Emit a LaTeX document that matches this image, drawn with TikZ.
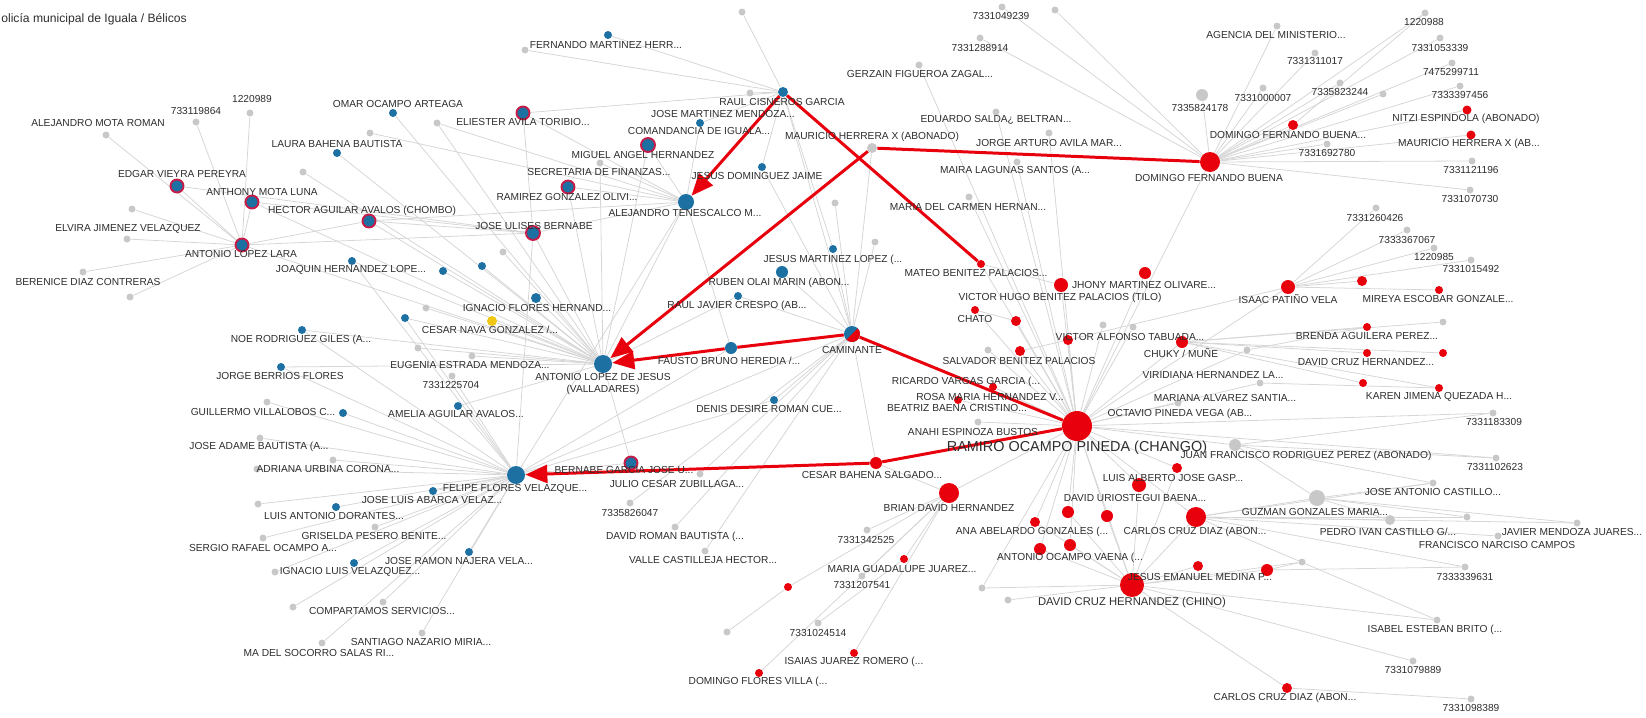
\documentclass[tikz,border=0pt]{standalone}
\usepackage{fontspec}
\setmainfont{Liberation Sans}
\usetikzlibrary{arrows.meta,backgrounds}

\definecolor{bl}{RGB}{28,112,162}
\definecolor{rd}{RGB}{232,0,12}
\definecolor{rring}{RGB}{200,28,72}
\definecolor{ngray}{RGB}{200,200,200}
\definecolor{egray}{RGB}{214,214,214}
\definecolor{yl}{RGB}{240,200,20}
\definecolor{txt}{RGB}{45,45,45}

\begin{document}
\begin{tikzpicture}[x=0.02cm,y=-0.02cm,
  dot/.style={circle,inner sep=0pt,minimum size=#1*0.4mm},
  gn/.style={dot=#1,fill=ngray}, gn/.default=3.5,
  bn/.style={dot=#1,fill=bl}, bn/.default=4,
  rn/.style={dot=#1,fill=rd}, rn/.default=4.5,
  ring/.style={dot=#1,fill=bl,draw=rring,line width=1.1pt}, ring/.default=6.5,
  yn/.style={dot=#1,fill=yl}, yn/.default=5,
  lb/.style={font=\fontsize{5.8}{6.5}\selectfont,text=txt,inner sep=0pt},
  edge/.style={draw=egray,line width=0.45pt},
  link/.style={draw=rd,line width=1.7pt},
  linkarrow/.style={link,-{Triangle[length=0.44cm,width=0.36cm]}}]
\useasboundingbox (0,0) rectangle (1646,717);
%\draw[help lines,step=100] (0,0) grid (1646,717);

\node[lb,anchor=west,font=\fontsize{6.9}{8}\selectfont] (title) at (1,19) {olicía municipal de Iguala / Bélicos};

% left group
\node[gn] (amr) at (106,135) {};
\node[gn] (p733119864) at (196,122) {};
\node[gn] (p1220989) at (250,113) {};
\node[bn] (omar) at (393,113) {};
\node[gn] (g370) at (370,133) {};
\node[bn] (laura) at (337,153) {};
\node[gn] (g303) at (303,172) {};
\node[ring] (edgar) at (177,186) {};
\node[ring] (anthony) at (252,202) {};
\node[ring] (hector) at (369,221) {};
\node[gn] (g132) at (132,209) {};
\node[gn] (elvira) at (127,239) {};
\node[ring] (alara) at (242,245) {};
\node[gn] (berenice) at (83,272) {};
\node[gn] (g130) at (130,297) {};
\node[bn] (joaquin) at (352,261) {};
\node[bn] (b443) at (443,271) {};
\node[bn] (b482) at (482,266) {};
\node[bn] (b405) at (405,318) {};
\node[gn] (g503) at (503,252) {};
\node[bn=5] (ignacio) at (536,298) {};
\node[gn] (g426) at (426,308) {};
\node[yn] (cesarnava) at (492,321) {};
\node[gn] (g418) at (418,348) {};
\node[gn] (eugenia) at (472,356) {};
\node[gn] (p7331225704) at (452,376) {};
\node[bn] (amelia) at (458,406) {};
\node[bn] (noe) at (302,330) {};
\node[bn] (jorge) at (281,367) {};
\node[gn] (guillermo) at (267,402) {};
\node[bn] (b343) at (343,413) {};
\node[gn] (adame) at (260,438) {};
\node[gn] (adriana) at (333,460) {};
\node[gn] (g257) at (257,469) {};
\node[gn] (abarca) at (258,504) {};
\node[bn] (dorantes) at (336,507) {};
\node[gn] (griselda) at (375,527) {};
\node[gn] (sergio) at (263,538) {};
\node[bn] (najera) at (469,552) {};
\node[bn] (ilv) at (354,563) {};
\node[gn] (g275) at (275,572) {};
\node[gn] (compart) at (383,602) {};
\node[gn] (g293) at (293,607) {};
\node[gn] (santiago) at (422,633) {};
\node[gn] (socorro) at (322,643) {};
\node[bn=9] (felipe) at (516,475) {};
\node[bn] (b433) at (433,491) {};
\node[ring] (bernabe) at (631,463) {};
\node[gn] (julio) at (700,474) {};
\node[gn] (p7335826047) at (630,503) {};
\node[gn] (droman) at (675,527) {};
\node[gn] (valle) at (705,551) {};

% upper middle
\node[gn] (g742) at (742,12) {};
\node[bn] (fernando) at (608,35) {};
\node[gn] (g525) at (525,50) {};
\node[bn=5] (raul) at (783,92) {};
\node[gn] (g750) at (750,93) {};
\node[ring] (eliester) at (523,113) {};
\node[gn] (g437) at (437,123) {};
\node[bn] (jmm) at (700,123) {};
\node[ring=7] (comand) at (648,145) {};
\node[gn] (secret) at (600,163) {};
\node[ring] (ramirez) at (568,187) {};
\node[bn] (jdj) at (762,167) {};
\node[bn=8] (atene) at (686,202) {};
\node[ring=7] (ulises) at (533,233) {};
\node[gn=5] (mauricio) at (872,148) {};
\node[bn=9] (ajesus) at (603,364) {};
\node[bn=6] (fausto) at (731,348) {};
\node[bn=6] (ruben) at (782,272) {};
\node[bn] (rjc) at (738,296) {};
\node[bn] (jml) at (833,249) {};
\node[gn] (g875) at (875,242) {};
\node[gn] (g835) at (835,203) {};
\node[bn=8] (camin) at (852,334) {};
\node[bn] (denis) at (774,400) {};

% upper right
\node[gn] (p7331049239) at (1002,7) {};
\node[gn] (g1055) at (1055,10) {};
\node[gn] (p7331288914) at (980,38) {};
\node[gn] (gerzain) at (919,65) {};
\node[gn] (eduardo) at (996,112) {};
\node[gn] (jaam) at (1049,133) {};
\node[gn] (maira) at (1017,162) {};
\node[gn] (mdch) at (969,197) {};
\node[rn=10] (dfb) at (1210,162) {};
\node[gn=6] (p7335824178) at (1202,95) {};
\node[rn=5] (dfb2) at (1293,125) {};
\node[gn] (agencia) at (1277,26) {};
\node[gn] (p7331311017) at (1315,53) {};
\node[gn] (p7331000007) at (1263,88) {};
\node[gn] (p7335823244) at (1340,83) {};
\node[gn] (g1383) at (1383,94) {};
\node[gn] (p1220988) at (1425,13) {};
\node[gn] (p7331053339) at (1440,38) {};
\node[gn] (p7475299711) at (1452,63) {};
\node[gn] (p7333397456) at (1460,86) {};
\node[rn] (nitzi) at (1467,110) {};
\node[rn] (mhx) at (1471,135) {};
\node[gn] (p7331692780) at (1327,144) {};
\node[gn] (p7331121196) at (1472,161) {};
\node[gn] (p7331070730) at (1470,190) {};

% right side
\node[gn] (p7331260426) at (1376,208) {};
\node[gn] (p7333367067) at (1407,230) {};
\node[gn] (p1220985) at (1434,248) {};
\node[gn] (p7331015492) at (1471,260) {};
\node[rn=7] (isaac) at (1288,287) {};
\node[rn=5] (r1362) at (1362,281) {};
\node[rn=4] (mireya) at (1439,290) {};
\node[rn=4] (brenda) at (1367,327) {};
\node[gn] (g1443) at (1443,322) {};
\node[rn=4] (dch) at (1367,353) {};
\node[rn=4] (r1443) at (1443,353) {};
\node[rn=4] (r1363) at (1363,383) {};
\node[rn=4] (karen) at (1439,388) {};
\node[gn] (p7331183309) at (1493,413) {};
\node[gn=6] (jfrp) at (1235,445) {};
\node[gn] (p7331102623) at (1496,458) {};
\node[gn] (viridiana) at (1247,350) {};
\node[gn] (mariana) at (1260,383) {};
\node[gn] (octavio) at (1178,403) {};

% red group
\node[rn=4] (mateo) at (981,264) {};
\node[rn=7] (jhony) at (1061,285) {};
\node[rn=6] (r1145) at (1145,273) {};
\node[rn=4] (chato) at (975,310) {};
\node[rn=5] (vhbp) at (1016,321) {};
\node[gn] (g1103) at (1103,325) {};
\node[gn] (g1133) at (1133,327) {};
\node[rn=5] (vat) at (1068,340) {};
\node[rn=6] (chuky) at (1182,342) {};
\node[rn=5] (sbp) at (1020,351) {};
\node[gn] (g988) at (988,350) {};
\node[rn=4] (ricardo) at (993,387) {};
\node[rn=4] (rosa) at (958,400) {};
\node[gn] (anahi) at (978,422) {};
\node[rn=15] (ramiro) at (1077,426) {};
\node[rn=6] (cesarb) at (876,463) {};
\node[rn=5] (luisa) at (1177,468) {};
\node[rn=10] (brian) at (949,493) {};
\node[rn=7] (uriostegui) at (1139,485) {};
\node[rn=5] (r1035) at (1035,522) {};
\node[rn=6] (r1068) at (1068,512) {};
\node[rn=6] (r1107) at (1107,516) {};
\node[rn=10] (carlos) at (1196,517) {};
\node[rn=6] (aov) at (1040,549) {};
\node[rn=6] (r1070) at (1070,545) {};
\node[rn=6] (jemp) at (1267,570) {};
\node[rn=5] (r1198) at (1198,566) {};
\node[rn=12] (chino) at (1132,585) {};
\node[gn] (p7331342525) at (867,530) {};
\node[rn=4] (mgj) at (904,559) {};
\node[gn] (p7331207541) at (862,576) {};
\node[gn] (g982) at (982,588) {};
\node[gn] (g1008) at (1008,600) {};
\node[rn=4] (r788) at (788,587) {};
\node[gn] (g727) at (727,632) {};
\node[gn] (p7331024514) at (818,623) {};
\node[rn=4] (isaias) at (854,653) {};
\node[rn=4] (dfv) at (759,673) {};
\node[gn] (jac) at (1433,483) {};
\node[gn=8] (guzman) at (1317,498) {};
\node[gn=5] (pedro) at (1390,520) {};
\node[gn] (g1467) at (1467,517) {};
\node[gn] (javier) at (1577,523) {};
\node[gn] (fnc) at (1498,536) {};
\node[gn] (p7333339631) at (1465,567) {};
\node[gn] (g1302) at (1302,562) {};
\node[gn] (isabel) at (1437,620) {};
\node[gn] (p7331079889) at (1413,661) {};
\node[rn=5] (ccd2) at (1287,688) {};
\node[gn] (p7331098389) at (1471,699) {};

% caminante: half red
\fill[rd] (camin.center) ++(-45:8) arc[start angle=-45,end angle=135,radius=8] -- cycle;

\begin{scope}[on background layer]
\foreach \a/\b in {alara/amr,alara/p733119864,alara/p1220989,alara/edgar,alara/anthony,alara/g132,
  alara/elvira,alara/berenice,alara/g130,alara/ajesus,alara/ulises,alara/hector,edgar/ulises,
  anthony/ulises,anthony/ajesus,hector/ulises,hector/ajesus,hector/atene,omar/ajesus,laura/ajesus,
  g370/atene,g303/ajesus,joaquin/ajesus,joaquin/felipe,b443/ajesus,b482/ajesus,b405/felipe,b405/ajesus,
  g503/ajesus,ignacio/ajesus,g426/ajesus,cesarnava/ajesus,g418/ajesus,eugenia/ajesus,
  p7331225704/felipe,amelia/felipe,amelia/ajesus,noe/ajesus,noe/felipe,jorge/felipe,jorge/ajesus,
  guillermo/felipe,b343/felipe,adame/felipe,adriana/felipe,g257/felipe,abarca/felipe,dorantes/felipe,
  griselda/felipe,sergio/felipe,najera/felipe,ilv/felipe,g275/felipe,compart/felipe,g293/felipe,
  santiago/felipe,socorro/felipe,b433/felipe,bernabe/felipe,bernabe/ajesus,julio/camin,
  p7335826047/camin,droman/camin,valle/camin,eliester/ulises,eliester/raul,eliester/atene,
  g437/atene,g437/ajesus,ulises/ajesus,ulises/atene,ulises/felipe,comand/atene,comand/ajesus,
  ramirez/atene,ramirez/ajesus,secret/atene,secret/ajesus,jmm/atene,jmm/raul,jdj/raul,jdj/camin,
  atene/ajesus,atene/felipe,fernando/raul,g525/raul,g742/raul,g750/raul,raul/camin,raul/jml,
  fausto/atene,fausto/felipe,ruben/camin,rjc/camin,rjc/ajesus,jml/camin,g875/camin,g835/camin,
  mauricio/camin,denis/camin,denis/felipe,camin/felipe,camin/ajesus,camin/cesarb}
  \draw[edge] (\a) -- (\b);
\foreach \a/\b in {gerzain/ramiro,eduardo/ramiro,jaam/ramiro,maira/ramiro,mdch/ramiro,
  p7331288914/dfb,p7331049239/dfb,g1055/dfb,dfb/p7335824178,dfb/agencia,dfb/p7331311017,
  dfb/p7331000007,dfb/p7335823244,dfb/g1383,dfb/p1220988,dfb/p7331053339,dfb/p7475299711,
  dfb/p7333397456,dfb/nitzi,dfb/mhx,dfb/p7331692780,dfb/p7331121196,dfb/p7331070730,dfb/dfb2,
  dfb/ramiro,dfb2/p1220988,isaac/p7331260426,isaac/p7333367067,isaac/p1220985,isaac/p7331015492,
  isaac/r1362,isaac/mireya,isaac/ramiro,isaac/vat,chuky/brenda,chuky/g1443,chuky/dch,chuky/r1443,
  chuky/r1363,chuky/karen,chuky/ramiro,viridiana/ramiro,viridiana/brenda,mariana/ramiro,
  mariana/karen,octavio/ramiro,ramiro/mateo,ramiro/jhony,ramiro/r1145,ramiro/chato,ramiro/vhbp,
  ramiro/g1103,ramiro/g1133,ramiro/vat,ramiro/sbp,ramiro/g988,ramiro/ricardo,ramiro/rosa,
  ramiro/anahi,ramiro/jfrp,ramiro/luisa,ramiro/brian,ramiro/uriostegui,ramiro/r1035,ramiro/r1068,
  ramiro/r1107,ramiro/aov,ramiro/r1070,ramiro/carlos,ramiro/chino,ramiro/p7331183309,
  ramiro/p7331102623,ramiro/g982,jfrp/p7331183309,jfrp/p7331102623,jfrp/guzman,jfrp/jac,
  carlos/guzman,carlos/pedro,carlos/jac,carlos/javier,carlos/fnc,carlos/g1467,carlos/p7333339631,
  carlos/isabel,carlos/chino,guzman/jac,guzman/g1467,guzman/javier,guzman/pedro,chino/jemp,
  chino/r1198,chino/ccd2,chino/p7331079889,chino/g1302,chino/isabel,chino/g982,chino/g1008,
  chino/aov,chino/r1070,chino/r1035,chino/r1068,chino/r1107,chino/uriostegui,chino/luisa,
  jemp/g1302,jemp/p7333339631,ccd2/p7331098389,brian/cesarb,brian/p7331342525,brian/mgj,
  brian/p7331207541,brian/r788,brian/isaias,brian/dfv,r788/g727,p7331024514/mgj,
  mateo/jhony,chato/vhbp,sbp/vat}
  \draw[edge] (\a) -- (\b);
\end{scope}

% red links
\draw[linkarrow] (raul) -- (atene);
\draw[link] (raul) -- (mateo);
\draw[linkarrow] (mauricio) -- (ajesus);
\draw[link] (mauricio) -- (dfb);
\draw[linkarrow] (camin) -- (fausto) -- (ajesus);
\draw[link] (camin) -- (ramiro);
\draw[linkarrow] (ramiro) -- (cesarb) -- (felipe);

% labels
\node[lb] (t-amr) at (98,123) {ALEJANDRO MOTA ROMAN};
\node[lb] (t-p733119864) at (196,111) {733119864};
\node[lb] (t-p1220989) at (252,99) {1220989};
\node[lb] (t-omar) at (398,104) {OMAR OCAMPO ARTEAGA};
\node[lb] (t-laura) at (337,144) {LAURA BAHENA BAUTISTA};
\node[lb] (t-edgar) at (182,174) {EDGAR VIEYRA PEREYRA};
\node[lb] (t-anthony) at (262,192) {ANTHONY MOTA LUNA};
\node[lb] (t-hector) at (362,211) {HECTOR AGUILAR AVALOS (CHOMBO)};
\node[lb] (t-elvira) at (128,229) {ELVIRA JIMENEZ VELAZQUEZ};
\node[lb] (t-alara) at (241,254) {ANTONIO LOPEZ LARA};
\node[lb] (t-berenice) at (88,282) {BERENICE DIAZ CONTRERAS};
\node[lb] (t-joaquin) at (351,270) {JOAQUIN HERNANDEZ LOPE...};
\node[lb] (t-ignacio) at (537,308) {IGNACIO FLORES HERNAND...};
\node[lb] (t-cesarnava) at (490,330) {CESAR NAVA GONZALEZ /...};
\node[lb] (t-eugenia) at (470,365) {EUGENIA ESTRADA MENDOZA...};
\node[lb] (t-p7331225704) at (451,385) {7331225704};
\node[lb] (t-amelia) at (456,414) {AMELIA AGUILAR AVALOS...};
\node[lb] (t-noe) at (301,340) {NOE RODRIGUEZ GILES (A...};
\node[lb] (t-jorge) at (280,376) {JORGE BERRIOS FLORES};
\node[lb] (t-guillermo) at (263,412) {GUILLERMO VILLALOBOS C...};
\node[lb] (t-adame) at (259,447) {JOSE ADAME BAUTISTA (A...};
\node[lb] (t-adriana) at (328,469) {ADRIANA URBINA CORONA...};
\node[lb] (t-abarca) at (432,500) {JOSE LUIS ABARCA VELAZ...};
\node[lb] (t-dorantes) at (334,516) {LUIS ANTONIO DORANTES...};
\node[lb] (t-griselda) at (374,536) {GRISELDA PESERO BENITE...};
\node[lb] (t-sergio) at (263,548) {SERGIO RAFAEL OCAMPO A...};
\node[lb] (t-najera) at (459,561) {JOSE RAMON NAJERA VELA...};
\node[lb] (t-ilv) at (350,572) {IGNACIO LUIS VELAZQUEZ...};
\node[lb] (t-compart) at (382,611) {COMPARTAMOS SERVICIOS...};
\node[lb] (t-santiago) at (421,642) {SANTIAGO NAZARIO MIRIA...};
\node[lb] (t-socorro) at (319,653) {MA DEL SOCORRO SALAS RI...};
\node[lb] (t-felipe) at (515,489) {FELIPE FLORES VELAZQUE...};
\node[lb] (t-bernabe) at (624,470) {BERNABE GARCIA JOSE U...};
\node[lb] (t-julio) at (677,484) {JULIO CESAR ZUBILLAGA...};
\node[lb] (t-p7335826047) at (630,513) {7335826047};
\node[lb] (t-droman) at (675,537) {DAVID ROMAN BAUTISTA (...};
\node[lb] (t-valle) at (703,560) {VALLE CASTILLEJA HECTOR...};
\node[lb] (t-fernando) at (606,45) {FERNANDO MARTINEZ HERR...};
\node[lb] (t-raul) at (782,102) {RAUL CISNEROS GARCIA};
\node[lb] (t-eliester) at (523,122) {ELIESTER AVILA TORIBIO...};
\node[lb] (t-jmm) at (723,114) {JOSE MARTINEZ MENDOZA...};
\node[lb] (t-comand) at (699,131) {COMANDANCIA DE IGUALA...};
\node[lb] (t-miguel) at (643,155) {MIGUEL ANGEL HERNANDEZ};
\node[lb] (t-secret) at (599,172) {SECRETARIA DE FINANZAS...};
\node[lb] (t-ramirez) at (567,197) {RAMIREZ GONZALEZ OLIVI...};
\node[lb] (t-jdj) at (757,176) {JESUS DOMINGUEZ JAIME};
\node[lb] (t-atene) at (685,213) {ALEJANDRO TENESCALCO M...};
\node[lb] (t-ulises) at (534,226) {JOSE ULISES BERNABE};
\node[lb] (t-mauricio) at (872,137) {MAURICIO HERRERA X (ABONADO)};
\node[lb,align=center] (t-ajesus) at (603,384) {ANTONIO LOPEZ DE JESUS\\(VALLADARES)};
\node[lb] (t-fausto) at (729,361) {FAUSTO BRUNO HEREDIA /...};
\node[lb] (t-jml) at (833,260) {JESUS MARTINEZ LOPEZ (...};
\node[lb] (t-ruben) at (779,283) {RUBEN OLAI MARIN (ABON...};
\node[lb] (t-rjc) at (737,306) {RAUL JAVIER CRESPO (AB...};
\node[lb] (t-camin) at (852,350) {CAMINANTE};
\node[lb] (t-denis) at (769,409) {DENIS DESIRE ROMAN CUE...};
\node[lb] (t-p7331049239) at (1001,16) {7331049239};
\node[lb] (t-p7331288914) at (980,48) {7331288914};
\node[lb] (t-gerzain) at (920,74) {GERZAIN FIGUEROA ZAGAL...};
\node[lb] (t-eduardo) at (996,120) {EDUARDO SALDA¿ BELTRAN...};
\node[lb] (t-jaam) at (1049,143) {JORGE ARTURO AVILA MAR...};
\node[lb] (t-maira) at (1015,171) {MAIRA LAGUNAS SANTOS (A...};
\node[lb] (t-mdch) at (968,207) {MARIA DEL CARMEN HERNAN...};
\node[lb] (t-dfb) at (1209,178) {DOMINGO FERNANDO BUENA};
\node[lb] (t-p7335824178) at (1200,108) {7335824178};
\node[lb] (t-dfb2) at (1288,135) {DOMINGO FERNANDO BUENA...};
\node[lb] (t-agencia) at (1276,35) {AGENCIA DEL MINISTERIO...};
\node[lb] (t-p7331311017) at (1315,61) {7331311017};
\node[lb] (t-p7331000007) at (1263,98) {7331000007};
\node[lb] (t-p7335823244) at (1340,92) {7335823244};
\node[lb] (t-p1220988) at (1424,22) {1220988};
\node[lb] (t-p7331053339) at (1440,48) {7331053339};
\node[lb] (t-p7475299711) at (1451,72) {7475299711};
\node[lb] (t-p7333397456) at (1460,95) {7333397456};
\node[lb] (t-nitzi) at (1466,119) {NITZI ESPINDOLA (ABONADO)};
\node[lb] (t-mhx) at (1469,144) {MAURICIO HERRERA X (AB...};
\node[lb] (t-p7331692780) at (1327,153) {7331692780};
\node[lb] (t-p7331121196) at (1471,170) {7331121196};
\node[lb] (t-p7331070730) at (1470,199) {7331070730};
\node[lb] (t-p7331260426) at (1375,218) {7331260426};
\node[lb] (t-p7333367067) at (1407,240) {7333367067};
\node[lb] (t-p1220985) at (1434,257) {1220985};
\node[lb] (t-p7331015492) at (1471,269) {7331015492};
\node[lb] (t-isaac) at (1288,299) {ISAAC PATIÑO VELA};
\node[lb] (t-mireya) at (1438,299) {MIREYA ESCOBAR GONZALE...};
\node[lb] (t-brenda) at (1367,336) {BRENDA AGUILERA PEREZ...};
\node[lb] (t-dch) at (1366,362) {DAVID CRUZ HERNANDEZ...};
\node[lb] (t-karen) at (1439,397) {KAREN JIMENA QUEZADA H...};
\node[lb] (t-p7331183309) at (1494,422) {7331183309};
\node[lb] (t-jfrp) at (1306,456) {JUAN FRANCISCO RODRIGUEZ PEREZ (ABONADO)};
\node[lb] (t-p7331102623) at (1495,467) {7331102623};
\node[lb] (t-viridiana) at (1213,375) {VIRIDIANA HERNANDEZ LA...};
\node[lb] (t-mariana) at (1225,398) {MARIANA ALVAREZ SANTIA...};
\node[lb] (t-octavio) at (1180,414) {OCTAVIO PINEDA VEGA (AB...};
\node[lb] (t-mateo) at (976,273) {MATEO BENITEZ PALACIOS...};
\node[lb] (t-jhony) at (1144,285) {JHONY MARTINEZ OLIVARE...};
\node[lb] (t-vhbp) at (1060,298) {VICTOR HUGO BENITEZ PALACIOS (TILO)};
\node[lb] (t-chato) at (975,319) {CHATO};
\node[lb] (t-vat) at (1130,337) {VICTOR ALFONSO TABUADA...};
\node[lb] (t-chuky) at (1181,353) {CHUKY / MUÑE};
\node[lb] (t-sbp) at (1019,361) {SALVADOR BENITEZ PALACIOS};
\node[lb] (t-ricardo) at (966,382) {RICARDO VARGAS GARCIA (...};
\node[lb] (t-rosa) at (990,397) {ROSA MARIA HERNANDEZ V...};
\node[lb] (t-beatriz) at (957,408) {BEATRIZ BAENA CRISTINO...};
\node[lb] (t-anahi) at (973,432) {ANAHI ESPINOZA BUSTOS};
\node[lb,font=\fontsize{8.2}{9}\selectfont] (t-ramiro) at (1077,448) {RAMIRO OCAMPO PINEDA (CHANGO)};
\node[lb] (t-cesarb) at (872,475) {CESAR BAHENA SALGADO...};
\node[lb] (t-luisa) at (1173,478) {LUIS ALBERTO JOSE GASP...};
\node[lb] (t-brian) at (949,508) {BRIAN DAVID HERNANDEZ};
\node[lb] (t-uriostegui) at (1135,498) {DAVID URIOSTEGUI BAENA...};
\node[lb] (t-ana) at (1032,532) {ANA ABELARDO GONZALES (...};
\node[lb] (t-carlos) at (1195,532) {CARLOS CRUZ DIAZ (ABON...};
\node[lb] (t-aov) at (1070,558) {ANTONIO OCAMPO VAENA (...};
\node[lb] (t-jemp) at (1200,577) {JESUS EMANUEL MEDINA P...};
\node[lb,font=\fontsize{6.4}{7}\selectfont] (t-chino) at (1132,603) {DAVID CRUZ HERNANDEZ (CHINO)};
\node[lb] (t-p7331342525) at (866,540) {7331342525};
\node[lb] (t-mgj) at (902,569) {MARIA GUADALUPE JUAREZ...};
\node[lb] (t-p7331207541) at (862,585) {7331207541};
\node[lb] (t-p7331024514) at (818,633) {7331024514};
\node[lb] (t-isaias) at (854,662) {ISAIAS JUAREZ ROMERO (...};
\node[lb] (t-dfv) at (758,682) {DOMINGO FLORES VILLA (...};
\node[lb] (t-jac) at (1433,492) {JOSE ANTONIO CASTILLO...};
\node[lb] (t-guzman) at (1315,512) {GUZMAN GONZALES MARIA...};
\node[lb] (t-pedro) at (1388,532) {PEDRO IVAN CASTILLO G/...};
\node[lb] (t-javier) at (1572,532) {JAVIER MENDOZA JUARES...};
\node[lb] (t-fnc) at (1497,545) {FRANCISCO NARCISO CAMPOS};
\node[lb] (t-p7333339631) at (1465,577) {7333339631};
\node[lb] (t-isabel) at (1435,630) {ISABEL ESTEBAN BRITO (...};
\node[lb] (t-p7331079889) at (1413,670) {7331079889};
\node[lb] (t-ccd2) at (1285,698) {CARLOS CRUZ DIAZ (ABON...};
\node[lb] (t-p7331098389) at (1471,708) {7331098389};
\end{tikzpicture}
\end{document}
